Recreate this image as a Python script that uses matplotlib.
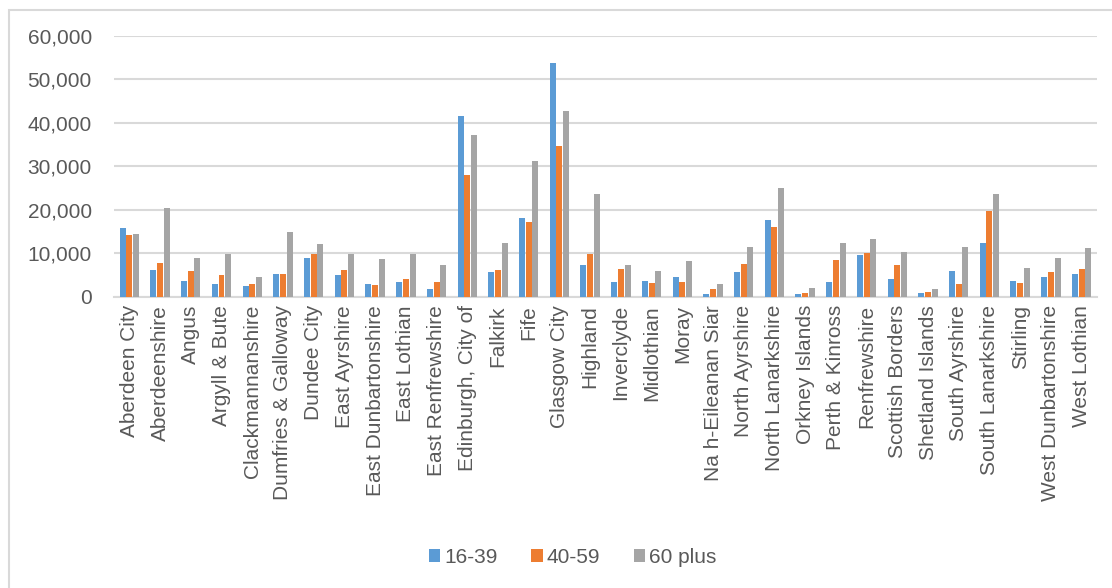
import numpy as np
import matplotlib
matplotlib.use("Agg")
import matplotlib.pyplot as plt
from matplotlib.patches import Rectangle
from matplotlib.ticker import FuncFormatter

plt.rcParams["font.family"] = ["Liberation Sans", "DejaVu Sans"]

areas = [
    "Aberdeen City", "Aberdeenshire", "Angus", "Argyll & Bute",
    "Clackmannanshire", "Dumfries & Galloway", "Dundee City", "East Ayrshire",
    "East Dunbartonshire", "East Lothian", "East Renfrewshire",
    "Edinburgh, City of", "Falkirk", "Fife", "Glasgow City", "Highland",
    "Inverclyde", "Midlothian", "Moray", "Na h-Eileanan Siar",
    "North Ayrshire", "North Lanarkshire", "Orkney Islands", "Perth & Kinross",
    "Renfrewshire", "Scottish Borders", "Shetland Islands", "South Ayrshire",
    "South Lanarkshire", "Stirling", "West Dunbartonshire", "West Lothian",
]
age_16_39 = [
    15700, 6100, 3700, 3000, 2500, 5300, 9000, 5000, 2900, 3400, 1800,
    41500, 5700, 18200, 53800, 7300, 3400, 3600, 4600, 600, 5700, 17700,
    600, 3400, 9500, 4100, 800, 6000, 12300, 3500, 4600, 5300,
]
age_40_59 = [
    14200, 7700, 5900, 4900, 3000, 5300, 9800, 6100, 2700, 4100, 3400,
    28000, 6100, 17200, 34700, 9800, 6300, 3200, 3400, 1800, 7600, 16100,
    900, 8500, 10000, 7200, 1100, 2900, 19800, 3200, 5600, 6400,
]
age_60_plus = [
    14400, 20300, 9000, 9800, 4600, 14900, 12100, 9800, 8600, 9900, 7200,
    37100, 12400, 31200, 42800, 23600, 7300, 6000, 8300, 2900, 11400, 25100,
    2100, 12400, 13200, 10300, 1800, 11400, 23700, 6700, 9000, 11100,
]
series_labels = ["16-39", "40-59", "60 plus"]
colours = ["#5B9BD5", "#ED7D31", "#A5A5A5"]
text_grey = "#595959"

fig = plt.figure(figsize=(11.12, 5.88), dpi=100)
ax = fig.add_axes([0.1025, 0.4954, 0.884, 0.4439])

# outer chart border
fig.patches.append(Rectangle(
    (9 / 1112, -0.05), 1.1, 1 - 10 / 588 + 0.05, transform=fig.transFigure,
    fill=False, edgecolor="#d9d9d9", linewidth=1.5, zorder=0,
))

x = np.arange(len(areas))
step = 0.218
width = 0.195
for i, (vals, lbl, col) in enumerate(zip([age_16_39, age_40_59, age_60_plus],
                                         series_labels, colours)):
    ax.bar(x + (i - 1) * step, vals, width, color=col, label=lbl, zorder=3)

ax.set_xlim(-0.5, len(areas) - 0.5)
ax.set_ylim(0, 60000)
ax.set_yticks(np.arange(0, 60001, 10000))
ax.yaxis.set_major_formatter(FuncFormatter(lambda v, p: f"{v:,.0f}"))
ax.grid(axis="y", color="#d9d9d9", linewidth=1.5, zorder=0)
ax.set_xticks(x)
ax.set_xticklabels(areas, rotation=90)
ax.tick_params(axis="both", length=0, labelsize=15, colors=text_grey)
ax.tick_params(axis="y", pad=16)
ax.tick_params(axis="x", pad=6)
for side in ["top", "right", "left"]:
    ax.spines[side].set_visible(False)
ax.spines["bottom"].set_color("#d9d9d9")
ax.spines["bottom"].set_linewidth(1.5)

fig.legend(
    loc="center", bbox_to_anchor=(0.515, 0.052), ncol=3, frameon=False,
    fontsize=15, labelcolor=text_grey, handlelength=0.55, handleheight=0.55,
    handletextpad=0.2, columnspacing=1.6,
)

fig.savefig("out.png", dpi=100)
